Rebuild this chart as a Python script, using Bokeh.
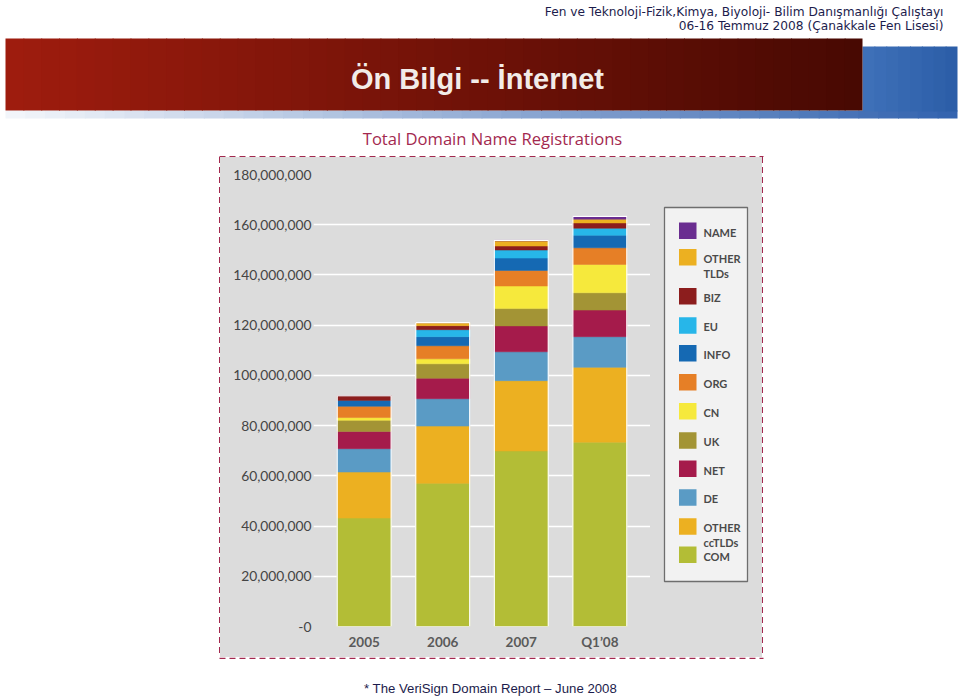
from bokeh.plotting import figure
from bokeh.layouts import row, column
from bokeh.models import FactorRange, Range1d, FixedTicker, ColumnDataSource, Spacer
from bokeh.core.properties import value
from bokeh.embed import file_html
from bokeh.resources import INLINE

# ---------------- data (millions of registrations) ----------------
PERIODS = ["2005", "2006", "2007", "Q1\u201908"]

com       = [43.2, 57.0, 69.9, 73.4]
other_cc  = [18.3, 22.8, 28.0, 29.8]
de        = [9.3, 10.9, 11.5, 12.2]
net       = [6.9, 8.2, 10.3, 10.6]
uk        = [4.4, 5.7, 6.9, 6.9]
cn        = [1.1, 2.0, 9.0, 11.3]
org       = [4.5, 5.2, 6.2, 6.6]
info      = [2.3, 3.6, 4.9, 5.0]
eu        = [0.0, 2.8, 3.2, 2.8]
biz       = [1.9, 1.6, 1.6, 2.1]
other_tld = [0.0, 1.2, 2.0, 1.5]
name      = [0.0, 0.0, 0.3, 1.1]

SERIES = ["com", "other_cc", "de", "net", "uk", "cn", "org", "info", "eu", "biz", "other_tld", "name"]
SERIES_VALUES = [com, other_cc, de, net, uk, cn, org, info, eu, biz, other_tld, name]
SERIES_LABELS = [["COM"], ["OTHER", "ccTLDs"], ["DE"], ["NET"], ["UK"], ["CN"], ["ORG"],
                 ["INFO"], ["EU"], ["BIZ"], ["OTHER", "TLDs"], ["NAME"]]
COLORS = ["#b3bd36", "#ecb021", "#5a9bc5", "#a51b4b", "#a39435", "#f6e93c", "#e67f26",
          "#1569b3", "#27b6e9", "#8c1d1d", "#ecb021", "#6a2d90"]

Y_TICKS = [0, 20000000, 40000000, 60000000, 80000000, 100000000, 120000000, 140000000, 160000000, 180000000]
Y_TICK_LABELS = ["-0", "20,000,000", "40,000,000", "60,000,000", "80,000,000", "100,000,000",
                 "120,000,000", "140,000,000", "160,000,000", "180,000,000"]

CHART_TITLE = "Total Domain Name Registrations"
SLIDE_TITLE = "\u00d6n Bilgi -- \u0130nternet"
HEADER_1 = "Fen ve Teknoloji-Fizik,Kimya, Biyoloji- Bilim Dan\u0131\u015fmanl\u0131\u011f\u0131 \u00c7al\u0131\u015ftay\u0131"
HEADER_2 = "06-16 Temmuz 2008 (\u00c7anakkale Fen Lisesi)"
FOOTER = "* The VeriSign Domain Report \u2013 June 2008"

GRAY = "#dcdcdc"
DASH_COLOR = "#a3294f"


def blank_fig(w, h, x0, x1, y_top, y_bottom, bg="white", bt=0, bb=0):
    """A figure in page-pixel coordinates (y downwards)."""
    f = figure(width=w, height=h, x_range=Range1d(x0, x1), y_range=Range1d(y_bottom, y_top),
               x_axis_type=None, y_axis_type=None, output_backend="svg", toolbar_location=None,
               min_border=0, min_border_left=0, min_border_right=0, min_border_top=bt, min_border_bottom=bb)
    f.outline_line_color = None
    f.background_fill_color = bg
    f.border_fill_color = bg
    return f


def lerp(c1, c2, t):
    return "#%02x%02x%02x" % tuple(int(round(a + (b - a) * t)) for a, b in zip(c1, c2))


def gradient(f, x0, x1, top, bottom, c1, c2, n=48):
    ls, rs, cs = [], [], []
    for i in range(n):
        ls.append(x0 + (x1 - x0) * i / n)
        rs.append(min(x1, x0 + (x1 - x0) * (i + 1) / n + 1))
        cs.append(lerp(c1, c2, i / (n - 1)))
    f.quad(left=ls, right=rs, top=[top] * n, bottom=[bottom] * n, fill_color=cs, line_color=None)


def txt(f, x, y, text, font, size, color, align="center", baseline="middle", style="normal"):
    f.text(x=[x], y=[y], text=[text], text_font=value(font), text_font_size=value(size),
           text_color=color, text_align=align, text_baseline=baseline, text_font_style=style)


# ---------------- top: header + banner + chart title ----------------
top = blank_fig(960, 157, 0, 960, 0, 157)
gradient(top, 5, 957, 110, 118, (242, 245, 250), (52, 100, 175))
gradient(top, 862, 957, 46, 111, (62, 112, 184), (44, 94, 168), n=8)
gradient(top, 5, 862, 38, 110, (158, 28, 14), (72, 9, 2))
txt(top, 943, 11, HEADER_1, "DejaVu Sans", "12.2px", "#1c1c4c", align="right")
txt(top, 943, 25, HEADER_2, "DejaVu Sans", "12.2px", "#1c1c4c", align="right")
txt(top, 477, 78, SLIDE_TITLE, "Liberation Sans", "29px", "#f2ece8", style="bold")
txt(top, 492, 138, CHART_TITLE, "Open Sans", "16.6px", "#a3294f")
top.line(x=[219, 763], y=[156.2, 156.2], line_color=DASH_COLOR, line_width=1.4, line_dash="6 4")

# ---------------- chart ----------------
data = {"period": PERIODS}
for key, vals in zip(SERIES, SERIES_VALUES):
    data[key] = [v * 1e6 for v in vals]
data["total"] = [sum(v[i] for v in SERIES_VALUES) * 1e6 for i in range(len(PERIODS))]
source = ColumnDataSource(data)

p = figure(width=430, height=500,
           x_range=FactorRange(factors=PERIODS, range_padding=0.0725, range_padding_units="percent"),
           y_range=Range1d(0, 180e6),
           output_backend="svg", toolbar_location=None,
           min_border_left=93, min_border_right=0, min_border_top=17, min_border_bottom=31)
p.background_fill_color = GRAY
p.border_fill_color = GRAY
p.outline_line_color = None

p.vbar_stack(SERIES, x="period", width=0.687, color=COLORS, source=source, line_width=0.5)
p.vbar(x="period", top="total", width=0.687, source=source,
       fill_color=None, line_color="white", line_width=1.2)

p.yaxis.ticker = FixedTicker(ticks=Y_TICKS)
p.yaxis.major_label_overrides = dict(zip(Y_TICKS, Y_TICK_LABELS))
p.xgrid.visible = False
p.ygrid.grid_line_color = "white"
p.ygrid.grid_line_width = 1.6
for ax in (p.xaxis, p.yaxis):
    ax.axis_line_color = None
    ax.major_tick_line_color = None
    ax.minor_tick_line_color = None
    ax.major_tick_in = 0
    ax.major_tick_out = 0
    ax.major_label_text_font = "Lato"
    ax.major_label_text_color = "#454545"
p.yaxis.major_label_text_font_size = "13.8px"
p.yaxis.major_label_standoff = 2
p.xaxis.major_label_text_font_size = "13.5px"
p.xaxis.major_label_text_font_style = "bold"
p.xaxis.major_label_text_color = "#5a5a5a"
p.xaxis.major_label_standoff = 7

# ---------------- legend panel (frame aligned with the chart's frame: page y 174..626) ----------------
lg = blank_fig(112, 500, 650, 762, 174, 626, bg=GRAY, bt=17, bb=31)
lg.quad(left=[664], right=[747], top=[207], bottom=[581],
        fill_color="#f2f2f2", line_color="#6e6e6e", line_width=1.3)
LEGEND_Y = [230.3, 256.7, 295.7, 325.0, 352.7, 381.7, 410.8, 440.0, 468.3, 497.0, 526.0, 554.3]
leg_labels = SERIES_LABELS[::-1]
leg_colors = COLORS[::-1]
lg.quad(left=[678.5] * len(LEGEND_Y), right=[696] * len(LEGEND_Y),
        top=[y - 8.3 for y in LEGEND_Y], bottom=[y + 8.3 for y in LEGEND_Y],
        fill_color=leg_colors, line_color=None)
tx, ty, tt = [], [], []
for yc, lab in zip(LEGEND_Y, leg_labels):
    for j, line in enumerate(lab):
        tx.append(703)
        ty.append(yc + 1.2 + 14.7 * j)
        tt.append(line)
lg.text(x=tx, y=ty, text=tt, text_font=value("Lato"), text_font_size=value("11px"),
        text_font_style="bold", text_color="#4a4a4a", text_align="left", text_baseline="middle")

# ---------------- footer ----------------
bottom = blank_fig(960, 39, 0, 960, 657, 696)
bottom.line(x=[219, 763], y=[657.8, 657.8], line_color=DASH_COLOR, line_width=1.4, line_dash="6 4")
txt(bottom, 490, 687.5, FOOTER, "Liberation Sans", "13.2px", "#1c1c4c")

dash_v = "repeating-linear-gradient(to bottom, %s 0px, %s 6px, transparent 6px, transparent 10px)" % (DASH_COLOR, DASH_COLOR)
left_sp = Spacer(width=220, height=500, styles={
    "background-color": "white",
    "background-image": dash_v, "background-size": "1.4px 100%",
    "background-position": "right top", "background-repeat": "no-repeat"})
right_sp = Spacer(width=198, height=500, styles={
    "background-color": "white",
    "background-image": dash_v, "background-size": "1.4px 100%",
    "background-position": "left top", "background-repeat": "no-repeat"})

middle = row(left_sp, p, lg, right_sp, styles={"background-color": GRAY})
page = column(top, middle, bottom)

open("out.html", "w").write(file_html(page, INLINE))
